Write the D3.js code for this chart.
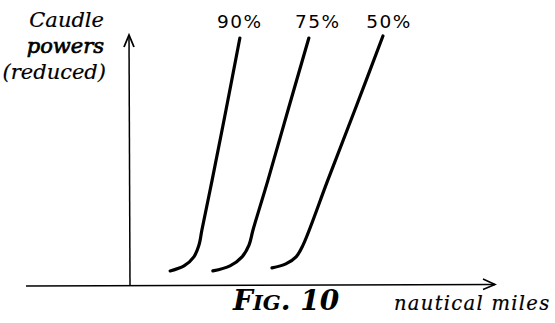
<!DOCTYPE html>
<html>
<head>
<meta charset="utf-8">
<script src="https://cdn.jsdelivr.net/npm/d3@7"></script>
<style>
  html, body { margin: 0; padding: 0; background: #fff; }
  svg { display: block; }
</style>
</head>
<body>
<svg id="chart" width="555" height="323"></svg>
<script>
// ---- data (arbitrary units 0..100) ----
const seriesNames = ["90%", "75%", "50%"];
const distance90 = [11.0, 14.8, 17.5, 18.9, 19.7, 22.5, 26.3, 30.1];
const power90    = [6.0, 8.0, 11.6, 16.3, 22.3, 42.2, 70.1, 98.8];
const distance75 = [22.7, 27.4, 30.7, 32.6, 33.7, 37.8, 43.3, 49.0];
const power75    = [6.0, 8.0, 11.6, 16.3, 22.3, 42.2, 70.1, 98.8];
const distance50 = [38.9, 42.7, 45.5, 47.4, 54.2, 61.6, 69.3];
const power50    = [7.2, 8.8, 11.6, 16.3, 42.2, 70.1, 99.6];
const yLabelLines = ["Caudle", "powers", "(reduced)"];
const xLabel = "nautical miles";
const figTitle = ["F", "IG", ". 10"];

const series = [
  { name: seriesNames[0], xs: distance90, ys: power90 },
  { name: seriesNames[1], xs: distance75, ys: power75 },
  { name: seriesNames[2], xs: distance50, ys: power50 }
];

const svg = d3.select("#chart");
const x0 = 130, x1 = 495, y0 = 286, y1 = 35;
const x = d3.scaleLinear().domain([0, 100]).range([x0, x1]);
const y = d3.scaleLinear().domain([0, 100]).range([y0, y1]);

// axes
svg.append("line").attr("x1", 26).attr("y1", y0).attr("x2", x1).attr("y2", y0 - 1.5)
  .attr("stroke", "#000").attr("stroke-width", 1.6);
svg.append("path").attr("d", `M${x1 - 12},${y0 - 7} L${x1},${y0 - 1.5} L${x1 - 12},${y0 + 3.5}`)
  .attr("fill", "none").attr("stroke", "#000").attr("stroke-width", 1.6);
svg.append("line").attr("x1", x0).attr("y1", y0).attr("x2", x0 - 1).attr("y2", y1)
  .attr("stroke", "#000").attr("stroke-width", 1.5);
svg.append("path").attr("d", `M${x0 - 6},${y1 + 12} L${x0 - 1},${y1} L${x0 + 4},${y1 + 12}`)
  .attr("fill", "none").attr("stroke", "#000").attr("stroke-width", 1.8);

// curves
const line = d3.line().x(d => x(d[0])).y(d => y(d[1])).curve(d3.curveCatmullRom.alpha(0.5));
const labelDx = [0, 9, 6];
series.forEach((s, i) => {
  const pts = s.xs.map((v, j) => [v, s.ys[j]]);
  svg.append("path").attr("d", line(pts))
    .attr("fill", "none").attr("stroke", "#000").attr("stroke-width", 3.2)
    .attr("stroke-linecap", "round");
  const top = pts[pts.length - 1];
  svg.append("text").attr("x", x(top[0]) + labelDx[i]).attr("y", 28)
    .attr("text-anchor", "middle")
    .attr("font-family", "'DejaVu Sans', sans-serif").attr("font-size", 18.5)
    .attr("letter-spacing", 1.5)
    .text(s.name);
});

// y label
yLabelLines.forEach((t, i) => {
  svg.append("text").attr("x", i === 2 ? 106 : 104).attr("y", 27 + i * 26)
    .attr("text-anchor", "end")
    .attr("font-family", "'DejaVu Serif', serif").attr("font-style", "italic")
    .attr("font-size", 21)
    .attr("stroke", "#000").attr("stroke-width", i === 1 ? 0.7 : 0.2)
    .text(t);
});

// figure title
const ft = svg.append("text").attr("x", 233).attr("y", 310)
  .attr("font-family", "'DejaVu Serif', serif").attr("font-style", "italic")
  .attr("font-weight", "bold").attr("font-size", 28);
ft.append("tspan").text(figTitle[0]);
ft.append("tspan").attr("font-size", 21).text(figTitle[1]);
ft.append("tspan").text(figTitle[2]);

// x label
svg.append("text").attr("x", 394).attr("y", 310)
  .attr("font-family", "'DejaVu Serif', serif").attr("font-style", "italic")
  .attr("font-size", 19.5).attr("letter-spacing", 1.3)
  .attr("stroke", "#000").attr("stroke-width", 0.2)
  .text(xLabel);
</script>
</body>
</html>
